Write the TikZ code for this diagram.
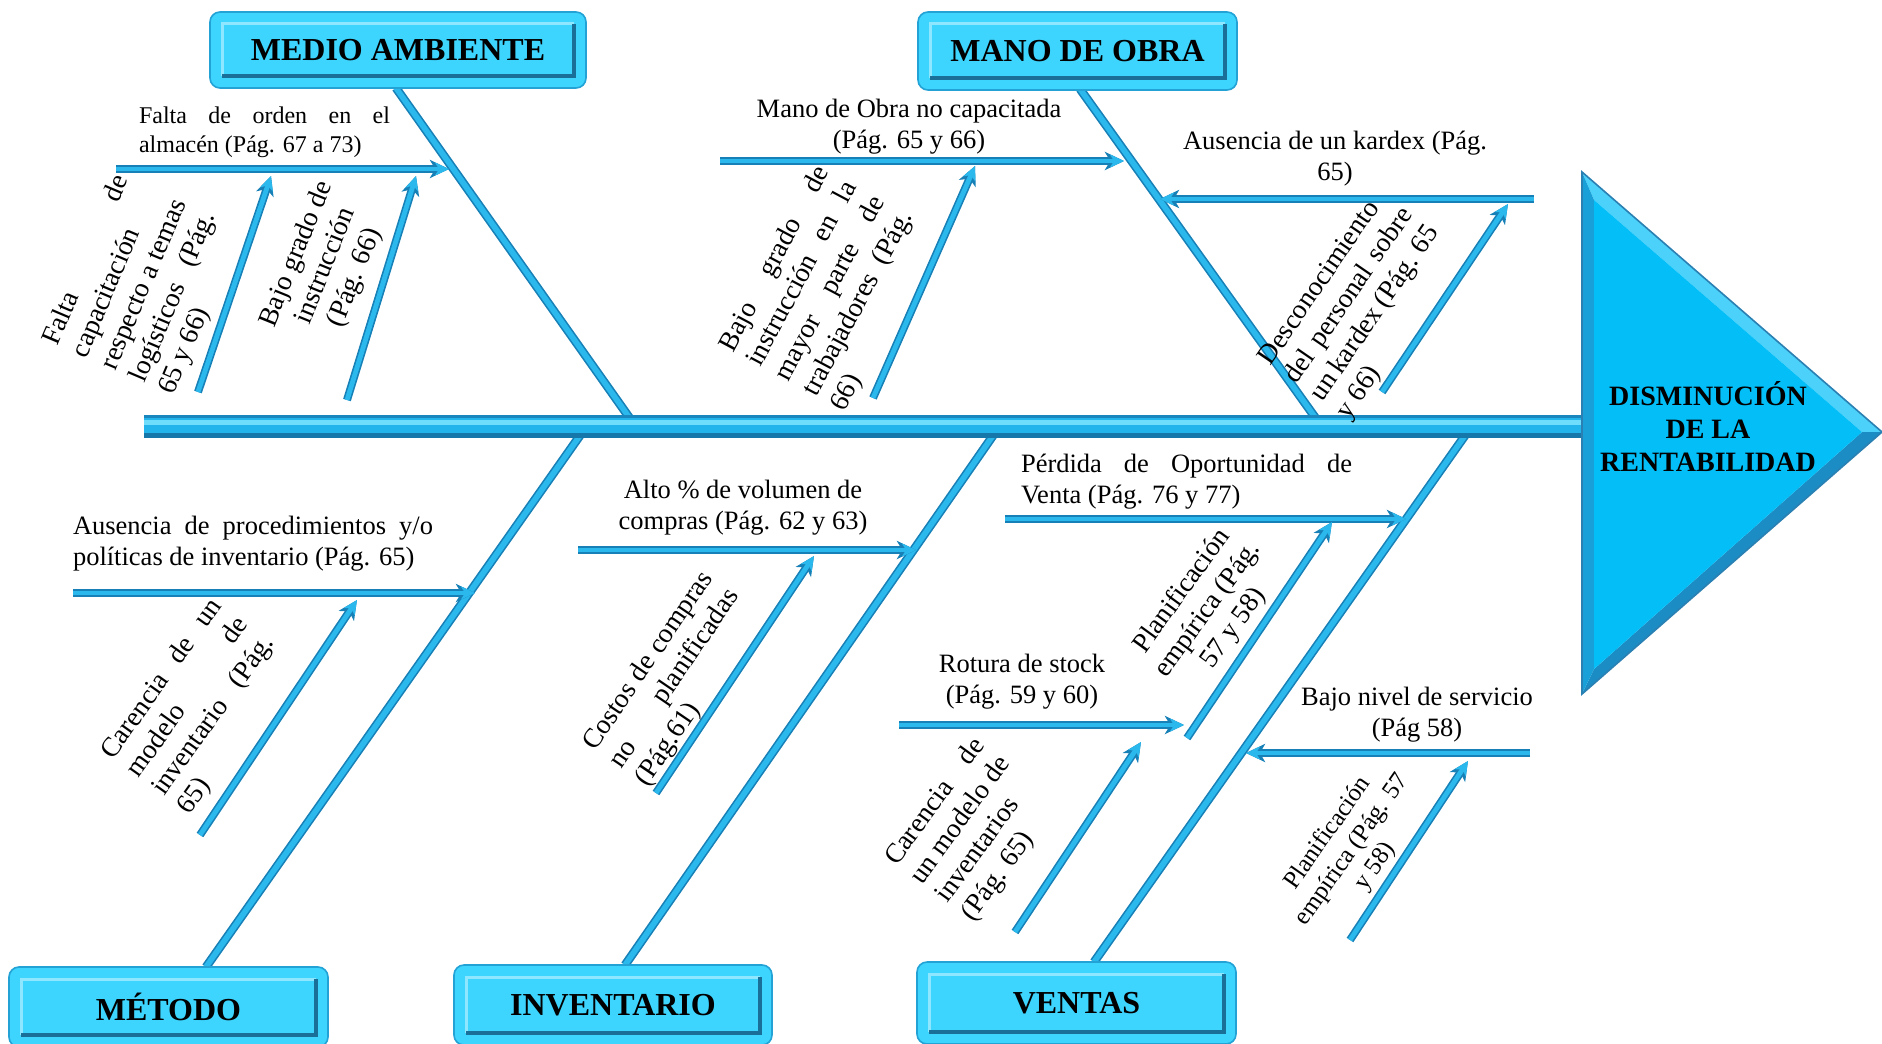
\documentclass[tikz,border=0pt]{standalone}
\usepackage{fontspec}
\setmainfont{Liberation Serif}
\usetikzlibrary{arrows.meta,calc}
\definecolor{bonelight}{HTML}{2BB8EC}
\definecolor{bonedark}{HTML}{1780B6}
\definecolor{boxfill}{HTML}{3DD4FD}
\definecolor{boxedge}{HTML}{23A2D6}
\definecolor{boxdark}{HTML}{1A6F98}
\definecolor{boxlight}{HTML}{8FE6FF}
\definecolor{headfill}{HTML}{04BEF8}
\definecolor{headlight}{HTML}{4CD2FA}
\definecolor{headdark}{HTML}{1C8CC4}
\definecolor{headmid}{HTML}{1AA0D8}
\definecolor{headedge}{HTML}{2A80B2}
\definecolor{spinebody}{HTML}{22B4EA}
\definecolor{spinehi}{HTML}{6FDDFB}
\definecolor{spineedge}{HTML}{1A86BE}
\definecolor{spinebot}{HTML}{1577AA}
\newcommand\bodyfont{\fontsize{13.25pt}{15.5pt}\selectfont}
\newcommand\smallbody{\fontsize{12pt}{14.5pt}\selectfont}
\newcommand\rotfont{\fontsize{13.75pt}{15.75pt}\selectfont}
\newcommand\rotsmall{\fontsize{12.5pt}{14.5pt}\selectfont}
\newcommand\titlefont{\fontsize{16pt}{19pt}\selectfont\bfseries}
\newcommand\headfont{\fontsize{14pt}{16.5pt}\selectfont\bfseries}
\newcommand\jline[2]{\makebox[#1][s]{#2}}
\begin{document}
\begin{tikzpicture}[x=0.5pt,y=-0.5pt,
  bone/.style={draw=bonelight, line width=2.8pt, preaction={draw=bonedark, line width=4.4pt}},
  arr/.style={draw=bonelight, line width=2.4pt, -{Stealth[length=7pt,width=6.5pt,inset=2pt]},
     preaction={draw=bonedark, line width=4pt, -{Stealth[length=9.5pt,width=9pt,inset=2.6pt]}}},
  catbox/.style={rectangle, rounded corners=5pt, fill=boxfill, draw=boxedge, line width=0.8pt,
     inner sep=0pt, font=\titlefont, text=black,
     path picture={
       \coordinate (pa) at ([shift={(12,12)}]path picture bounding box.north west);
       \coordinate (pb) at ([shift={(-12,-12)}]path picture bounding box.south east);
       \draw[boxlight, line width=1.5pt, sharp corners] (pa |- pb) -- (pa) -- (pa -| pb);
       \draw[boxdark, line width=2pt, sharp corners] (pa -| pb) -- (pb) -- (pa |- pb);
     }},
  txt/.style={inner sep=0pt, font=\bodyfont, text=black},
  rtxt/.style={inner sep=0pt, font=\rotfont, text=black},
]
\useasboundingbox (0,0) rectangle (1882,1043);

% ---------- coordinates ----------
\coordinate (maT) at (396,88);   \coordinate (maB) at (636,427);
\coordinate (moT) at (1080,89);  \coordinate (moB) at (1322,427);
\coordinate (meT) at (586,427);  \coordinate (meB) at (206,967);
\coordinate (inT) at (999,427);  \coordinate (inB) at (625,965);
\coordinate (veT) at (1471,427); \coordinate (veB) at (1094,962);

\coordinate (s1a) at (116,169);  \coordinate (s1b) at (449,169);
\coordinate (s2a) at (198,392);  \coordinate (s2b) at (271,176);
\coordinate (s3a) at (347,400);  \coordinate (s3b) at (416,176);
\coordinate (s4a) at (720,161);  \coordinate (s4b) at (1124,161);
\coordinate (s5a) at (873,398);  \coordinate (s5b) at (975,166);
\coordinate (s6a) at (1534,199); \coordinate (s6b) at (1160,199);
\coordinate (s7a) at (1382,392); \coordinate (s7b) at (1508,204);
\coordinate (s8a) at (73,593);   \coordinate (s8b) at (475,593);
\coordinate (s9a) at (200,835);  \coordinate (s9b) at (357,600);
\coordinate (s10a) at (578,550); \coordinate (s10b) at (916,550);
\coordinate (s11a) at (656,793); \coordinate (s11b) at (814,556);
\coordinate (s12a) at (1005,519);\coordinate (s12b) at (1406,519);
\coordinate (s13a) at (1187,738);\coordinate (s13b) at (1332,522);
\coordinate (s14a) at (899,725); \coordinate (s14b) at (1184,725);
\coordinate (s15a) at (1015,932);\coordinate (s15b) at (1141,742);
\coordinate (s16a) at (1530,753);\coordinate (s16b) at (1246,753);
\coordinate (s17a) at (1350,940);\coordinate (s17b) at (1468,761);

% ---------- main bones ----------
\draw[bone] (maT) -- (maB);
\draw[bone] (moT) -- (moB);
\draw[bone] (meT) -- (meB);
\draw[bone] (inT) -- (inB);
\draw[bone] (veT) -- (veB);

% ---------- sub-cause arrows ----------
\foreach \s in {1,...,17} {\draw[arr] (s\s a) -- (s\s b);}

% ---------- spine ----------
\coordinate (spL) at (144,427); \coordinate (spR) at (1583,427);
\fill[spinebody] ($(spL)+(0,-11)$) rectangle ($(spR)+(0,11)$);
\fill[spinehi] ($(spL)+(0,-7)$) rectangle ($(spR)+(0,-2)$);
\fill[spinebot] ($(spL)+(0,6)$) rectangle ($(spR)+(0,11)$);
\fill[spineedge] ($(spL)+(0,-12)$) rectangle ($(spR)+(0,-9)$);

% ---------- head ----------
\coordinate (hTL) at (1582,172); \coordinate (hTip) at (1882,432); \coordinate (hBL) at (1582,694);
\coordinate (iTL) at (1594,200); \coordinate (iTip) at (1862,432); \coordinate (iBL) at (1594,669);
\fill[headlight] (hTL) -- (hTip) -- (iTip) -- (iTL) -- cycle;
\fill[headdark] (hBL) -- (hTip) -- (iTip) -- (iBL) -- cycle;
\fill[headmid] (hTL) -- (iTL) -- (iBL) -- (hBL) -- cycle;
\fill[headfill] (iTL) -- (iTip) -- (iBL) -- cycle;
\draw[headedge, line width=0.8pt] (hTL) -- (hTip) -- (hBL) -- cycle;
\node[inner sep=0pt, font=\headfont, align=center] (head) at (1708,427)
  {DISMINUCIÓN\\DE LA\\RENTABILIDAD};

% ---------- category boxes ----------
\node[catbox, minimum width=188pt, minimum height=38pt] (ma) at (398,50) {MEDIO AMBIENTE};
\node[catbox, minimum width=159.5pt, minimum height=39pt] (mo) at (1077.5,51) {MANO DE OBRA};
\node[catbox, minimum width=159.5pt, minimum height=40pt] (me) at (168.5,1007) {MÉTODO};
\node[catbox, minimum width=159pt, minimum height=40pt] (inv) at (613,1005) {INVENTARIO};
\node[catbox, minimum width=159.5pt, minimum height=41pt] (ve) at (1076.5,1003) {VENTAS};

% ---------- horizontal labels ----------
\node[txt, font=\smallbody, align=left] (t1) at (264.5,132.5)
  {\jline{125.5pt}{Falta de orden en el}\\almacén (Pág. 67 a 73)};
\node[txt, align=center] (t4) at (909,127) {Mano de Obra no capacitada\\(Pág. 65 y 66)};
\node[txt, align=center] (t6) at (1335,159) {Ausencia de un kardex (Pág.\\65)};
\node[txt, align=left] (t8) at (253,544)
  {\jline{180pt}{Ausencia de procedimientos y/o}\\políticas de inventario (Pág. 65)};
\node[txt, align=center] (t10) at (743,508) {Alto \% de volumen de\\compras (Pág. 62 y 63)};
\node[txt, align=left] (t12) at (1186.5,482)
  {\jline{165.5pt}{Pérdida de Oportunidad de}\\Venta (Pág. 76 y 77)};
\node[txt, align=center] (t14) at (1022,682) {Rotura de stock\\(Pág. 59 y 60)};
\node[txt, align=center] (t16) at (1417,715) {Bajo nivel de servicio\\(Pág 58)};

% ---------- rotated labels ----------
\node[rtxt, align=left, rotate=67] (t2) at (145,285)
  {\jline{91pt}{Falta de}\\capacitación\\\jline{91pt}{respecto a temas}\\\jline{91pt}{logísticos (Pág.}\\65 y 66)};
\node[rtxt, align=center, rotate=68] (t3) at (326,266)
  {Bajo grado de\\instrucción\\(Pág. 66)};
\node[rtxt, align=left, rotate=62] (t5) at (831,289)
  {\jline{102.5pt}{Bajo grado de}\\\jline{102.5pt}{instrucción en la}\\\jline{102.5pt}{mayor parte de}\\\jline{102.5pt}{trabajadores (Pág.}\\66)};
\node[rtxt, align=left, rotate=55.5] (t7) at (1363,305)
  {Desconocimiento\\\jline{103pt}{del personal sobre}\\\jline{103pt}{un kardex (Pág. 65}\\y 66)};
\node[rtxt, align=left, rotate=54.5] (t9) at (201,707)
  {\jline{94.5pt}{Carencia de un}\\\jline{94.5pt}{modelo de}\\\jline{94.5pt}{inventario (Pág.}\\65)};
\node[rtxt, align=left, rotate=55.7] (t11) at (675,679)
  {\jline{105pt}{Costos de compras}\\\jline{105pt}{no planificadas}\\(Pág.61)};
\node[rtxt, align=center, rotate=54] (t13) at (1208,610)
  {Planificación\\empírica (Pág.\\57 y 58)};
\node[rtxt, align=left, rotate=54] (t15) at (974,830)
  {\jline{75pt}{Carencia de}\\\jline{75pt}{un modelo de}\\inventarios\\(Pág. 65)};
\node[rtxt, font=\rotsmall, align=center, rotate=55] (t17) at (1352,850)
  {Planificación\\empírica (Pág. 57\\y 58)};
\end{tikzpicture}
\end{document}
